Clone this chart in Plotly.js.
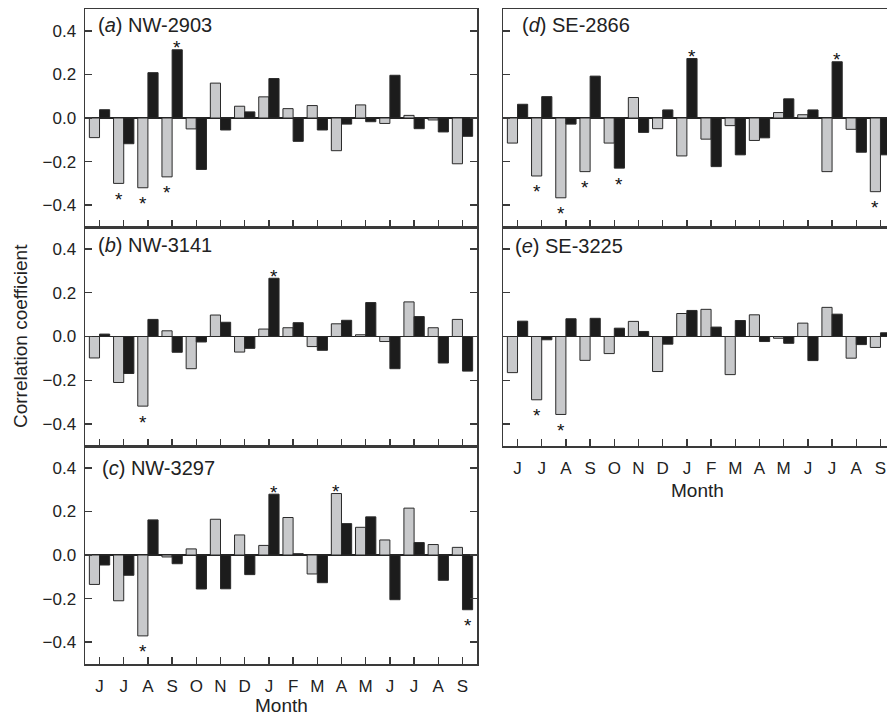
<!DOCTYPE html>
<html><head><meta charset="utf-8">
<script src="https://cdn.plot.ly/plotly-3.0.1.min.js"></script>
<style>html,body{margin:0;padding:0;background:#fff}</style>
</head><body><div id="chart" style="width:887px;height:717px"></div>
<script>
const months = ['J','J','A','S','O','N','D','J','F','M','A','M','J','J','A','S'];

// (a) NW-2903
const grayA  = [-0.09,-0.30,-0.32,-0.27,-0.05,0.16,0.054,0.097,0.043,0.057,-0.15,0.06,-0.025,0.012,-0.009,-0.21];
const blackA = [0.038,-0.118,0.208,0.313,-0.236,-0.055,0.028,0.181,-0.107,-0.055,-0.028,-0.017,0.196,-0.049,-0.064,-0.084];
const sigGrayA = [1,2,3];
const sigBlackA = [3];

// (b) NW-3141
const grayB  = [-0.098,-0.21,-0.318,0.026,-0.147,0.098,-0.071,0.034,0.04,-0.046,0.058,0.008,-0.023,0.158,0.04,0.078];
const blackB = [0.011,-0.169,0.078,-0.072,-0.025,0.065,-0.054,0.266,0.063,-0.063,0.074,0.155,-0.147,0.091,-0.121,-0.158];
const sigGrayB = [2];
const sigBlackB = [7];

// (c) NW-3297
const grayC  = [-0.135,-0.21,-0.371,-0.009,0.028,0.164,0.092,0.044,0.172,-0.087,0.282,0.127,0.069,0.215,0.048,0.035];
const blackC = [-0.046,-0.093,0.161,-0.04,-0.156,-0.155,-0.09,0.279,0.006,-0.127,0.144,0.175,-0.205,0.057,-0.116,-0.251];
const sigGrayC = [2,10];
const sigBlackC = [7,15];

// (d) SE-2866
const grayD  = [-0.115,-0.266,-0.366,-0.246,-0.115,0.094,-0.049,-0.174,-0.097,-0.035,-0.103,0.025,0.015,-0.246,-0.052,-0.338];
const blackD = [0.063,0.098,-0.028,0.192,-0.23,-0.066,0.037,0.273,-0.223,-0.169,-0.091,0.088,0.037,0.258,-0.157,-0.169];
const sigGrayD = [1,2,3,15];
const sigBlackD = [4,7,13];

// (e) SE-3225
const grayE  = [-0.165,-0.289,-0.356,-0.109,-0.078,0.069,-0.16,0.105,0.124,-0.174,0.099,-0.008,0.061,0.133,-0.099,-0.05];
const blackE = [0.07,-0.015,0.081,0.083,0.038,0.023,-0.035,0.119,0.043,0.073,-0.023,-0.031,-0.11,0.102,-0.037,0.017];
const sigGrayE = [1,2];
const sigBlackE = [];

const yTicks = [-0.4,-0.2,0,0.2,0.4];

const W = 887, H = 717;
const BARGAP = 0.16;
const FONT = 'Arial, "Liberation Sans", Helvetica, sans-serif';

const panels = [
  {letter:'a', name:'NW-2903', gray:grayA, black:blackA, sg:sigGrayA, sb:sigBlackA, col:0, top:9,   bot:227, labels:false, tx:96,  ty:24.5},
  {letter:'b', name:'NW-3141', gray:grayB, black:blackB, sg:sigGrayB, sb:sigBlackB, col:0, top:227, bot:446, labels:false, tx:96,  ty:245.5},
  {letter:'c', name:'NW-3297', gray:grayC, black:blackC, sg:sigGrayC, sb:sigBlackC, col:0, top:446, bot:664, labels:true,  tx:100, ty:468.5},
  {letter:'d', name:'SE-2866', gray:grayD, black:blackD, sg:sigGrayD, sb:sigBlackD, col:1, top:9,   bot:227, labels:false, tx:520, ty:25.5},
  {letter:'e', name:'SE-3225', gray:grayE, black:blackE, sg:sigGrayE, sb:sigBlackE, col:1, top:227, bot:446, labels:true,  tx:513, ty:246}
];
const cols = [
  {x0:85, x1:477, range:[-0.6,15.6], mirrorY:'ticks'},
  {x0:503, x1:887, range:[-0.6,15.27], mirrorY:false}
];

const idx = months.map((m,i)=>i);
const traces = [];
const annotations = [];
const layout = {
  width: W, height: H,
  margin:{l:0,r:0,t:0,b:0},
  paper_bgcolor:'#fff', plot_bgcolor:'#fff',
  barmode:'group', bargap:BARGAP, bargroupgap:0,
  showlegend:false,
  font:{family:FONT, color:'#222'},
  annotations: annotations
};
const off = (1-BARGAP)/4;
const AX = '#3a3a3a';

panels.forEach((p,k)=>{
  const n = k+1;
  const c = cols[p.col];
  const xa = 'x'+n, ya = 'y'+n;
  traces.push({type:'bar', x:idx, y:p.gray, xaxis:xa, yaxis:ya,
    marker:{color:'#c8c9cb', line:{color:'#2a2a2a', width:1}}, hoverinfo:'skip'});
  traces.push({type:'bar', x:idx, y:p.black, xaxis:xa, yaxis:ya,
    marker:{color:'#1c1c1c', line:{color:'#2a2a2a', width:1}}, hoverinfo:'skip'});
  layout['xaxis'+n] = {
    domain:[c.x0/W, c.x1/W], anchor:ya, range:c.range, fixedrange:true,
    tickmode:'array', tickvals:idx, ticktext:months, showticklabels:p.labels,
    ticks:'inside', ticklen:7, tickwidth:1.5, tickcolor:AX,
    showline:true, linecolor:AX, linewidth:1.5, mirror:true,
    showgrid:false, zeroline:false,
    tickfont:{size:17, color:'#222', family:FONT}, ticklabelstandoff:6
  };
  layout['yaxis'+n] = {
    domain:[1-p.bot/H, 1-p.top/H], anchor:xa, range:[-0.5,0.5], fixedrange:true,
    tickmode:'array', tickvals:yTicks, tickformat:'.1f', showticklabels:p.col===0,
    ticks:'inside', ticklen:7, tickwidth:1.5, tickcolor:AX,
    showline:true, linecolor:AX, linewidth:1.5, mirror:c.mirrorY,
    showgrid:false, zeroline:true, zerolinecolor:'#222', zerolinewidth:1.5,
    tickfont:{size:17, color:'#222', family:FONT}, ticklabelstandoff:4
  };
  annotations.push({xref:'paper', yref:'paper', x:p.tx/W, y:1-p.ty/H, xanchor:'left', yanchor:'middle',
    text:'(<i>'+p.letter+'</i>) '+p.name, showarrow:false, font:{size:20, color:'#222', family:FONT}});
  const star = (i, v, dx)=>{
    annotations.push({xref:xa, yref:ya, x:i+dx, y:v, text:'*', showarrow:false,
      xanchor:'center', yanchor:'middle', yshift: v>0 ? 2 : -16,
      font:{size:19, color:'#111', family:FONT}});
  };
  p.sg.forEach(i=>star(i, p.gray[i], -off));
  p.sb.forEach(i=>star(i, p.black[i], off));
});

annotations.push({xref:'paper', yref:'paper', x:20/W, y:1-336/H, xanchor:'center', yanchor:'middle',
  text:'Correlation coefficient', textangle:-90, showarrow:false, font:{size:19, color:'#222', family:FONT}});
annotations.push({xref:'paper', yref:'paper', x:281/W, y:1-705/H, xanchor:'center', yanchor:'middle',
  text:'Month', showarrow:false, font:{size:19, color:'#222', family:FONT}});
annotations.push({xref:'paper', yref:'paper', x:697/W, y:1-491/H, xanchor:'center', yanchor:'middle',
  text:'Month', showarrow:false, font:{size:19, color:'#222', family:FONT}});

Plotly.newPlot('chart', traces, layout, {staticPlot:true, displayModeBar:false});
</script></body></html>
